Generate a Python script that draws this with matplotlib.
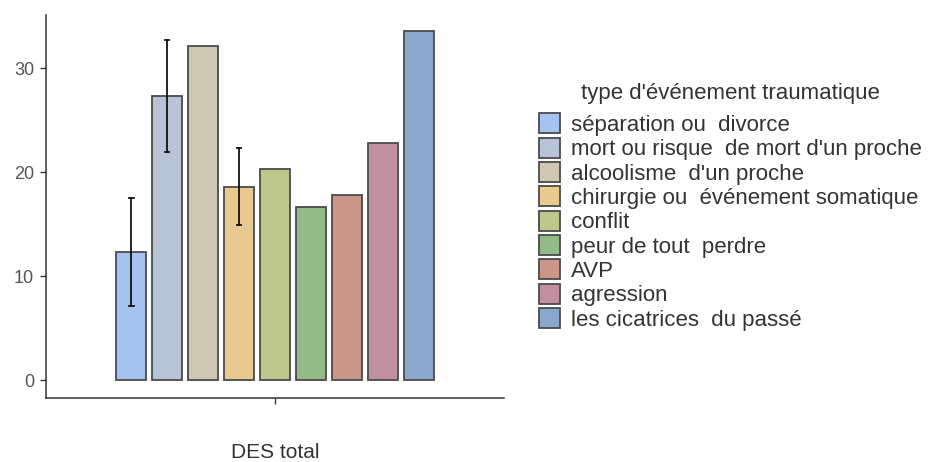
import matplotlib
matplotlib.use("Agg")
import matplotlib.pyplot as plt
from matplotlib.patches import Patch
import numpy as np

plt.rcParams['font.family'] = ['Liberation Sans', 'DejaVu Sans']

categories = ["séparation ou  divorce", "mort ou risque  de mort d'un proche",
              "alcoolisme  d'un proche", "chirurgie ou  événement somatique",
              "conflit", "peur de tout  perdre", "AVP", "agression",
              "les cicatrices  du passé"]
values = [12.3, 27.3, 32.1, 18.6, 20.3, 16.7, 17.8, 22.8, 33.6]
err_low = [7.1, 21.9, None, 14.9, None, None, None, None, None]
err_high = [17.5, 32.75, None, 22.3, None, None, None, None, None]
colors = ["#A5C3F0", "#B8C4D6", "#CFC7B4", "#E8CA90", "#BEC88C",
          "#93BB88", "#C99688", "#C190A0", "#8AA8CC"]
xlabel = "DES total"
legend_title = "type d'événement traumatique"
yticks = [0, 10, 20, 30]

fig = plt.figure(figsize=(9.36, 4.62), dpi=100)
ax = fig.add_axes([0.0491, 0.1385, 0.4894, 0.829])

n = len(values)
x = np.arange(n) - (n - 1) / 2
w = 0.836
ax.bar(x, values, width=w, color=colors, edgecolor="#4a4a4a", linewidth=1.3, zorder=2)
for xi, lo, hi in zip(x, err_low, err_high):
    if lo is None:
        continue
    ax.plot([xi, xi], [lo, hi], color="#111111", lw=1.3, zorder=3)
    for yy in (lo, hi):
        ax.plot([xi - 0.06, xi + 0.06], [yy, yy], color="#111111", lw=1.3, zorder=3)

ax.set_xlim(-6.38, 6.38)
ax.set_ylim(-1.73, 35.13)
ax.set_yticks(yticks)
ax.set_yticklabels([str(t) for t in yticks], fontsize=13, color="#555555")
ax.set_xticks([0])
ax.set_xticklabels([""])
ax.tick_params(axis="both", length=4.5, width=1, color="#333333", pad=4)
ax.set_xlabel(xlabel, fontsize=15, color="#333333", labelpad=24)
for s in ["top", "right"]:
    ax.spines[s].set_visible(False)
for s in ["left", "bottom"]:
    ax.spines[s].set_color("#333333")
    ax.spines[s].set_linewidth(1.1)

handles = [Patch(facecolor=c, edgecolor="#4a4a4a", linewidth=1.3) for c in colors]
leg = fig.legend(handles, categories, title=legend_title, loc="upper left",
                 bbox_to_anchor=(0.5755, 0.821), frameon=False, fontsize=16,
                 title_fontsize=16, labelspacing=0.08, handlelength=0.95,
                 handleheight=1.0, handletextpad=0.5, borderpad=0, borderaxespad=0)
leg.get_title().set_color("#333333")
leg._legend_box.sep = 7
for t in leg.get_texts():
    t.set_color("#333333")

fig.savefig("out.png", dpi=100)
